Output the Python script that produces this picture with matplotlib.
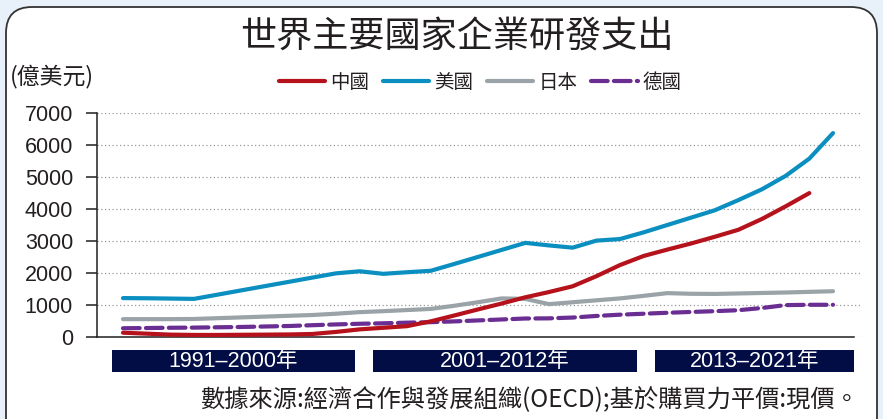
import matplotlib
matplotlib.use("Agg")
import matplotlib.pyplot as plt
from matplotlib.patches import FancyBboxPatch, Rectangle
from matplotlib.transforms import IdentityTransform

# ---------------- data ----------------
years = list(range(1991, 2022))
china = [125, 95, 65, 55, 55, 60, 65, 70, 85, 150, 230, 280, 330, 480, 665, 855, 1040,
         1235, 1400, 1580, 1895, 2245, 2530, 2730, 2920, 3130, 3350, 3690, 4085, 4500]
usa = [1210, 1205, 1195, 1185, 1318, 1452, 1585, 1718, 1852, 1985, 2050, 1970, 2020, 2065,
       2280, 2500, 2720, 2940, 2860, 2790, 3010, 3060, 3270, 3500, 3730, 3960, 4280, 4620,
       5040, 5580, 6380]
japan = [550, 550, 550, 555, 580, 605, 630, 655, 680, 720, 770, 800, 835, 870, 970, 1080,
         1200, 1185, 1020, 1080, 1140, 1200, 1280, 1365, 1345, 1340, 1355, 1370, 1385, 1405, 1425]
germany = [265, 272, 280, 285, 295, 305, 320, 335, 360, 385, 405, 420, 440, 455, 480, 510,
           540, 570, 575, 600, 650, 690, 720, 750, 775, 800, 830, 900, 990, 1000, 1000]
series_names = ["中國", "美國", "日本", "德國"]
yticks = [0, 1000, 2000, 3000, 4000, 5000, 6000, 7000]
period_labels = ["1991–2000年", "2001–2012年", "2013–2021年"]
title = "世界主要國家企業研發支出"
unit = "(億美元)"
source = "數據來源:經濟合作與發展組織(OECD);基於購買力平價:現價。"

# ---------------- style ----------------
W, H = 883, 419
CJK = ["Noto Sans CJK TC", "DejaVu Sans"]
LAT = ["Liberation Sans", "Noto Sans CJK TC", "DejaVu Sans"]
TXT = "#231f20"
colors = ["#b5121b", "#0a8fc0", "#9aa3a8", "#6a2d91"]

fig = plt.figure(figsize=(W / 100, H / 100), dpi=100)
fig.patch.set_facecolor("#e8f1f9")

panel = FancyBboxPatch((6, -30), 871, H - 7 + 30,
                       boxstyle="round,pad=0,rounding_size=26",
                       transform=IdentityTransform(), facecolor="white",
                       edgecolor="#333333", linewidth=1.3, zorder=-5)
fig.patches.append(panel)

def px(x, y):
    return x / W, 1 - y / H

ax_l, ax_r = 96.7, 860
ax_t, ax_b = 113.3, 336.7
ax = fig.add_axes([ax_l / W, 1 - ax_b / H, (ax_r - ax_l) / W, (ax_b - ax_t) / H])
ax.set_zorder(2)
ax.set_facecolor("none")
ppy = (833 - 123) / 30.0
ax.set_xlim(1991 - (123 - ax_l) / ppy, 2021 + (ax_r - 833) / ppy)
ax.set_ylim(0, 7000)

lw = 3.0
ax.plot(years[:len(china)], china, color=colors[0], lw=lw, solid_capstyle="round", zorder=5, label=series_names[0])
ax.plot(years, usa, color=colors[1], lw=lw, solid_capstyle="round", zorder=5, label=series_names[1])
ax.plot(years, japan, color=colors[2], lw=lw, solid_capstyle="round", zorder=4, label=series_names[2])
ax.plot(years, germany, color=colors[3], lw=lw, dashes=(4.0, 1.5), dash_capstyle="round",
        zorder=4, label=series_names[3])

ax.set_yticks(yticks)
ax.set_yticklabels([str(v) for v in yticks], fontfamily=LAT, fontsize=15.5, color=TXT)
ax.tick_params(axis="y", direction="out", length=8, width=1.1, color=TXT, pad=9)
ax.set_xticks([])
ax.yaxis.grid(True, linestyle=(0, (1, 2)), color="#999999", linewidth=0.9)
ax.set_axisbelow(True)
for s in ["top", "right"]:
    ax.spines[s].set_visible(False)
for s in ["left", "bottom"]:
    ax.spines[s].set_color(TXT)
    ax.spines[s].set_linewidth(1.1)
ax.spines["left"].set_bounds(0, 7000)
ax.spines["bottom"].set_bounds(ax.get_xlim()[0], 2021 + (854 - 833) / ppy)

# title / unit
fig.text(*px(457, 38), title, fontfamily=CJK, fontsize=26, color=TXT, ha="center", va="center")
fig.text(*px(10, 76), unit, fontfamily=CJK, fontsize=16.5, color=TXT, ha="left", va="center")

# legend
leg = fig.legend(loc="center", bbox_to_anchor=px(480, 82), ncol=4, frameon=False,
                 prop={"family": CJK, "size": 14}, handlelength=2.4, handletextpad=0.25,
                 columnspacing=0.7, borderpad=0)
for t in leg.get_texts():
    t.set_color(TXT)

# period boxes
boxes = [(112, 355), (373, 637), (655, 854)]
by0, by1 = 350, 372
for (x0, x1), lab in zip(boxes, period_labels):
    r = Rectangle(px(x0, by1), (x1 - x0) / W, (by1 - by0) / H, transform=fig.transFigure,
                  facecolor="#020c45", edgecolor="none", zorder=1)
    fig.patches.append(r)
    fig.text(*px((x0 + x1) / 2, (by0 + by1) / 2 + 0.5), lab, fontfamily=LAT, fontsize=15.5,
             color="white", ha="center", va="center", zorder=3)

# source
fig.text(*px(859, 400), source, fontfamily=CJK, fontsize=17.5, color=TXT, ha="right", va="center")

fig.savefig("out.png", dpi=100, facecolor=fig.get_facecolor())
